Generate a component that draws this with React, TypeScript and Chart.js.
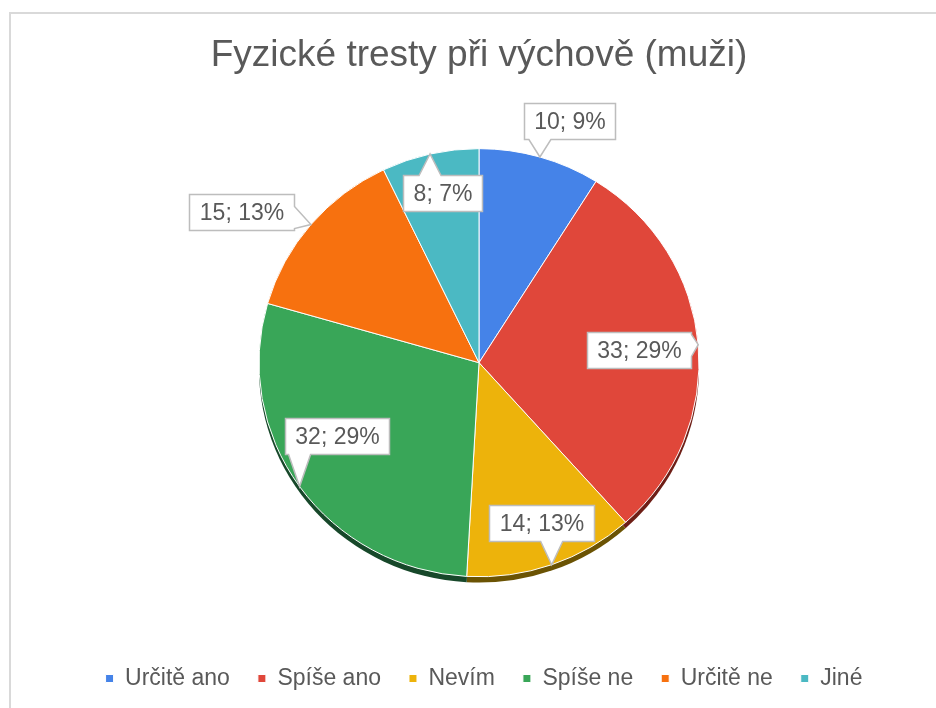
import React, { useEffect, useRef } from "react";
import { Chart, registerables } from "chart.js";

Chart.register(...registerables);

// ---- data ----
const TITLE = "Fyzické tresty při výchově (muži)";
const categories = ["Určitě ano", "Spíše ano", "Nevím", "Spíše ne", "Určitě ne", "Jiné"];
const counts = [10, 33, 14, 32, 15, 8];

// ---- style ----
const sliceColors = ["#4583E8", "#E0473A", "#EDB30B", "#39A658", "#F7710F", "#4BB9C3"];
const rimColors = ["#1f3d6e", "#6e1e16", "#6b5303", "#17482a", "#7a3606", "#215a5f"];
// label callout placement: distance (fraction of radius) and angular turn (deg) from slice middle
const labelDist = [1.2, 0.73, 0.8, 0.73, 1.29, 0.81];
const labelTurn = [4, 0, -1.5, 7.5, -7, 1];

const FONT = '"Liberation Sans", Arial, sans-serif';
const TEXT_COLOR = "#595959";
const SY = 0.973;
const RIM = 6;
const PIE_RADIUS = 220;
const LEGEND_SHIFT = 5;

const total = counts.reduce((a, b) => a + b, 0);
const percents = counts.map((v) => Math.round((v / total) * 100));

const clamp = (v: number, lo: number, hi: number) => Math.max(lo, Math.min(hi, v));

const pieLook = {
  id: "pieLook",
  afterLayout(chart: any) {
    if (chart.legend) {
      chart.legend.left += LEGEND_SHIFT;
      chart.legend.right += LEGEND_SHIFT;
    }
  },
  beforeDatasetsDraw(chart: any) {
    const ctx = chart.ctx;
    const meta = chart.getDatasetMeta(0);
    const first = meta.data[0];
    const x = first.x;
    const y = first.y;
    ctx.save();
    ctx.translate(x, y);
    ctx.scale(1, SY);
    ctx.translate(-x, -y);
    meta.data.forEach((arc: any, i: number) => {
      const p = arc.getProps(["startAngle", "endAngle", "outerRadius"], true);
      ctx.beginPath();
      ctx.moveTo(x, y + RIM);
      ctx.arc(x, y + RIM, p.outerRadius, p.startAngle, p.endAngle);
      ctx.closePath();
      ctx.fillStyle = rimColors[i];
      ctx.fill();
    });
  },
  afterDatasetsDraw(chart: any) {
    chart.ctx.restore();
  },
  afterDraw(chart: any) {
    const ctx = chart.ctx;
    const meta = chart.getDatasetMeta(0);
    ctx.save();
    ctx.font = `23px ${FONT}`;
    const PAD_X = 10;
    const BOX_H = 36;
    const WW = 22;
    meta.data.forEach((arc: any, i: number) => {
      const p = arc.getProps(["x", "y", "startAngle", "endAngle", "outerRadius"], true);
      const mid = (p.startAngle + p.endAngle) / 2;
      const R = p.outerRadius;
      const tipX = p.x + R * Math.cos(mid);
      const tipY = p.y + R * Math.sin(mid) * SY;
      const a = mid + (labelTurn[i] * Math.PI) / 180;
      const bx = p.x + R * labelDist[i] * Math.cos(a);
      const by = p.y + R * labelDist[i] * Math.sin(a) * SY;
      const text = `${counts[i]}; ${percents[i]}%`;
      const w = ctx.measureText(text).width + 2 * PAD_X;
      const x0 = Math.round(bx - w / 2) + 0.5;
      const x1 = Math.round(bx + w / 2) + 0.5;
      const y0 = Math.round(by - BOX_H / 2) + 0.5;
      const y1 = Math.round(by + BOX_H / 2) + 0.5;
      const dxOut = tipX < x0 ? x0 - tipX : tipX > x1 ? tipX - x1 : 0;
      const dyOut = tipY < y0 ? y0 - tipY : tipY > y1 ? tipY - y1 : 0;
      let side = "none";
      if (dxOut > 0 || dyOut > 0) {
        if (dyOut >= dxOut) side = tipY < y0 ? "top" : "bottom";
        else side = tipX < x0 ? "left" : "right";
      }
      ctx.beginPath();
      ctx.moveTo(x0, y0);
      if (side === "top") {
        const c = clamp(tipX, x0 + WW / 2 + 2, x1 - WW / 2 - 2);
        ctx.lineTo(c - WW / 2, y0);
        ctx.lineTo(tipX, tipY);
        ctx.lineTo(c + WW / 2, y0);
      }
      ctx.lineTo(x1, y0);
      if (side === "right") {
        const c = clamp(tipY, y0 + WW / 2 + 2, y1 - WW / 2 - 2);
        ctx.lineTo(x1, c - WW / 2);
        ctx.lineTo(tipX, tipY);
        ctx.lineTo(x1, c + WW / 2);
      }
      ctx.lineTo(x1, y1);
      if (side === "bottom") {
        const c = clamp(tipX, x0 + WW / 2 + 2, x1 - WW / 2 - 2);
        ctx.lineTo(c + WW / 2, y1);
        ctx.lineTo(tipX, tipY);
        ctx.lineTo(c - WW / 2, y1);
      }
      ctx.lineTo(x0, y1);
      if (side === "left") {
        const c = clamp(tipY, y0 + WW / 2 + 2, y1 - WW / 2 - 2);
        ctx.lineTo(x0, c + WW / 2);
        ctx.lineTo(tipX, tipY);
        ctx.lineTo(x0, c - WW / 2);
      }
      ctx.closePath();
      ctx.fillStyle = "#ffffff";
      ctx.fill();
      ctx.lineWidth = 1.5;
      ctx.strokeStyle = "#bdbdbd";
      ctx.stroke();
      ctx.fillStyle = TEXT_COLOR;
      ctx.textAlign = "center";
      ctx.textBaseline = "middle";
      ctx.fillText(text, (x0 + x1) / 2, (y0 + y1) / 2 + 1);
    });
    ctx.restore();
  },
};

export default function App() {
  const ref = useRef<HTMLCanvasElement | null>(null);
  useEffect(() => {
    if (!ref.current) return;
    const chart = new Chart(ref.current, {
      type: "pie",
      data: {
        labels: categories,
        datasets: [
          {
            data: counts,
            backgroundColor: sliceColors,
            borderColor: "#ffffff",
            borderWidth: 1,
            radius: PIE_RADIUS,
            clip: false as any,
          } as any,
        ],
      },
      options: {
        responsive: false,
        animation: false,
        devicePixelRatio: 1,
        layout: { padding: { top: 0, bottom: 8, left: 0, right: 0 } },
        plugins: {
          title: {
            display: true,
            text: TITLE,
            color: TEXT_COLOR,
            font: { family: FONT, size: 37, weight: "normal" as any },
            padding: { top: 20, bottom: 8 },
          },
          legend: {
            display: true,
            position: "bottom",
            labels: {
              color: TEXT_COLOR,
              font: { family: FONT, size: 23 },
              boxWidth: 8,
              boxHeight: 8,
              padding: 28,
            },
          },
          tooltip: { enabled: false },
        },
      },
      plugins: [pieLook],
    });
    return () => chart.destroy();
  }, []);
  return (
    <div
      style={{
        position: "fixed",
        left: 0,
        top: 0,
        width: 936,
        height: 708,
        overflow: "hidden",
        background: "#ffffff",
      }}
    >
      <div
        style={{
          position: "absolute",
          left: 9,
          top: 12,
          width: 1000,
          height: 1000,
          borderLeft: "2px solid #d9d9d9",
          borderTop: "2px solid #d9d9d9",
        }}
      />
      <canvas
        ref={ref}
        width={936}
        height={694}
        style={{ position: "absolute", left: 11, top: 14, width: 936, height: 694 }}
      />
    </div>
  );
}
